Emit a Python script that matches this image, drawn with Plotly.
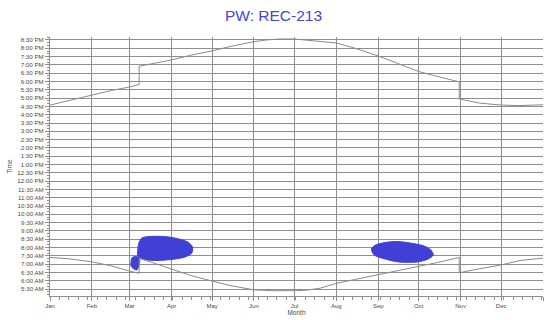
import plotly.graph_objects as go
from datetime import datetime

# ---- data ----
sunset_dates = ["2013-01-01", "2013-01-15", "2013-02-01", "2013-02-15", "2013-03-01", "2013-03-07",
                "2013-03-08", "2013-03-08", "2013-04-01", "2013-04-15", "2013-05-01", "2013-05-15",
                "2013-06-01", "2013-06-10", "2013-06-20", "2013-07-01", "2013-07-10", "2013-07-15",
                "2013-08-01", "2013-08-15", "2013-09-01", "2013-09-15", "2013-10-01", "2013-10-15",
                "2013-10-31", "2013-10-31", "2013-11-15", "2013-12-01", "2013-12-15", "2014-01-01"]
sunset_hours = [16.58, 16.85, 17.19, 17.45, 17.67, 17.80,
                17.82, 18.92, 19.30, 19.58, 19.84, 20.12,
                20.40, 20.50, 20.56, 20.56, 20.50, 20.45,
                20.32, 20.00, 19.54, 19.10, 18.60, 18.30,
                17.98, 16.95, 16.70, 16.58, 16.55, 16.60]

sunrise_dates = ["2013-01-01", "2013-01-15", "2013-02-01", "2013-02-15", "2013-03-01", "2013-03-08",
                 "2013-03-08", "2013-04-01", "2013-04-15", "2013-05-01", "2013-05-15", "2013-06-01",
                 "2013-06-15", "2013-07-01", "2013-07-10", "2013-07-20", "2013-08-01", "2013-08-15",
                 "2013-09-01", "2013-09-15", "2013-10-01", "2013-10-15", "2013-10-31", "2013-10-31",
                 "2013-11-15", "2013-12-01", "2013-12-15", "2014-01-01"]
sunrise_hours = [7.40, 7.32, 7.14, 6.90, 6.58, 6.45,
                 7.36, 6.68, 6.32, 5.98, 5.70, 5.45,
                 5.40, 5.40, 5.43, 5.55, 5.84, 6.08,
                 6.36, 6.58, 6.84, 7.10, 7.40, 6.48,
                 6.72, 6.95, 7.22, 7.36]

# activity clusters (outline vertices)
spring_dates = ["2013-03-07", "2013-03-07T18:00", "2013-03-10", "2013-03-15", "2013-03-27", "2013-04-05",
                "2013-04-13", "2013-04-16T12:00", "2013-04-16", "2013-04-11", "2013-04-01", "2013-03-19",
                "2013-03-10", "2013-03-07"]
spring_hours = [7.85, 8.27, 8.57, 8.66, 8.66, 8.54,
                8.33, 8.03, 7.67, 7.43, 7.28, 7.22,
                7.31, 7.49]

early_dates = ["2013-03-02", "2013-03-02T14:00", "2013-03-04T18:00", "2013-03-07T18:00", "2013-03-08T12:00",
               "2013-03-07T18:00", "2013-03-06T08:00", "2013-03-04T02:00", "2013-03-02"]
early_hours = [7.13, 7.37, 7.46, 7.40, 7.19, 6.89, 6.65, 6.71, 6.89]

fall_dates = ["2013-08-27", "2013-08-30", "2013-09-06", "2013-09-15", "2013-09-25", "2013-10-05",
              "2013-10-10", "2013-10-11T18:00", "2013-10-08", "2013-09-30", "2013-09-16", "2013-09-06",
              "2013-08-29"]
fall_hours = [7.91, 8.15, 8.30, 8.36, 8.27, 8.09,
              7.85, 7.55, 7.31, 7.13, 7.13, 7.31, 7.55]

month_starts = ["2013-01-01", "2013-02-01", "2013-03-01", "2013-04-01", "2013-05-01", "2013-06-01",
                "2013-07-01", "2013-08-01", "2013-09-01", "2013-10-01", "2013-11-01", "2013-12-01",
                "2014-01-01"]
month_labels = ["Jan", "Feb", "Mar", "Apr", "May", "Jun", "Jul", "Aug", "Sep", "Oct", "Nov", "Dec", "Jan"]

time_labels = ["5:30 AM", "6:00 AM", "6:30 AM", "7:00 AM", "7:30 AM", "8:00 AM", "8:30 AM", "9:00 AM",
               "9:30 AM", "10:00 AM", "10:30 AM", "11:00 AM", "11:30 AM", "12:00 PM", "12:30 PM",
               "1:00 PM", "1:30 PM", "2:00 PM", "2:30 PM", "3:00 PM", "3:30 PM", "4:00 PM", "4:30 PM",
               "5:00 PM", "5:30 PM", "6:00 PM", "6:30 PM", "7:00 PM", "7:30 PM", "8:00 PM", "8:30 PM"]


def label_to_hour(s):
    t = datetime.strptime(s, "%I:%M %p")
    return t.hour + t.minute / 60.0


time_vals = [label_to_hour(s) for s in time_labels]

BLUE = "#4040d6"
LINE = "#8a8a8a"
GRID = "#8e8e8e"
TXT = "#4a4a4a"

fig = go.Figure()

for dts, hrs in [(spring_dates, spring_hours), (early_dates, early_hours), (fall_dates, fall_hours)]:
    fig.add_trace(go.Scatter(x=dts + [dts[0]], y=hrs + [hrs[0]], mode="lines", fill="toself",
                             fillcolor=BLUE, line=dict(color=BLUE, width=1, shape="spline", smoothing=0.8),
                             hoverinfo="skip", showlegend=False))

fig.add_trace(go.Scatter(x=sunset_dates, y=sunset_hours, mode="lines",
                         line=dict(color=LINE, width=1), showlegend=False))
fig.add_trace(go.Scatter(x=sunrise_dates, y=sunrise_hours, mode="lines",
                         line=dict(color=LINE, width=1), showlegend=False))

fig.update_layout(
    width=547, height=320,
    margin=dict(l=50, r=4, t=37, b=24, autoexpand=False),
    paper_bgcolor="white", plot_bgcolor="white",
    title=dict(text="PW: REC-213", x=0.5, xanchor="center", y=0.952, yanchor="middle",
               font=dict(family="Liberation Sans, Arial, sans-serif", size=15.5, color="#4646d2")),
    font=dict(family="Liberation Sans, Arial, sans-serif", color=TXT),
    showlegend=False,
)

fig.update_xaxes(
    type="date", range=["2013-01-01", "2014-01-01"], automargin=False,
    tickmode="array", tickvals=month_starts, ticktext=month_labels,
    tickfont=dict(size=6, color=TXT),
    ticks="outside", ticklen=4, tickcolor=GRID, tickwidth=1,
    showgrid=True, gridcolor=GRID, gridwidth=1.2,
    showline=True, linecolor=GRID, linewidth=1,
    minor=dict(dtick=7 * 86400000, tick0="2013-01-01", ticks="outside", ticklen=3,
               tickcolor=GRID, showgrid=False),
    title=dict(text="Month", font=dict(size=6.5, color=TXT), standoff=1),
    zeroline=False,
)

fig.update_yaxes(
    range=[5.08, 20.68], automargin=False,
    tickmode="array", tickvals=time_vals, ticktext=time_labels,
    tickfont=dict(size=6.2, color=TXT),
    ticks="outside", ticklen=4, tickcolor=GRID, tickwidth=1,
    showgrid=True, gridcolor=GRID, gridwidth=1.2,
    showline=True, linecolor=GRID, linewidth=1,
    minor=dict(dtick=1 / 6, tick0=0, ticks="outside", ticklen=2, tickcolor=GRID, showgrid=False),
    title=dict(text="Time", font=dict(size=6.5, color=TXT), standoff=4),
    zeroline=False,
)

fig.write_html("out.html", config={"displayModeBar": False},
               post_script="document.body.style.margin='0';document.body.style.overflow='hidden';")
